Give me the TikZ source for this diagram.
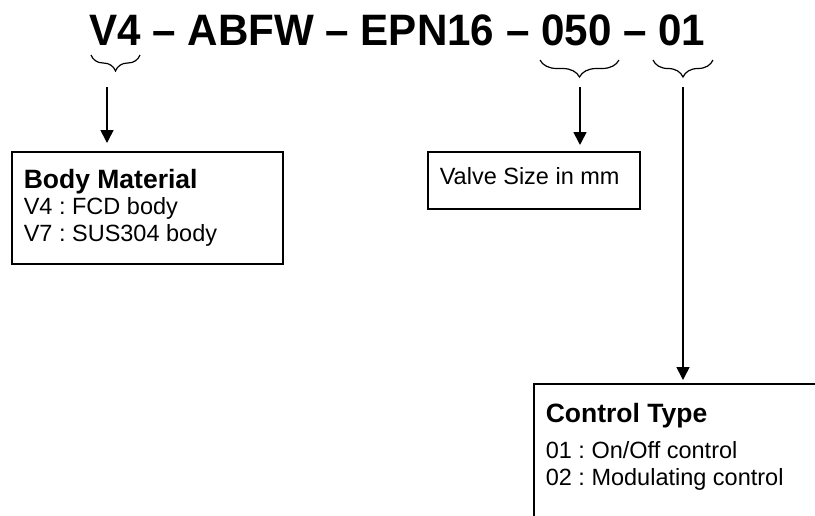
\documentclass[tikz,border=0pt]{standalone}
\usepackage{fontspec}
\setmainfont{Liberation Sans}
\newfontfamily\codefont[FakeStretch=0.958,Ligatures=TeX]{Liberation Sans Bold}
\usetikzlibrary{arrows.meta, decorations.pathreplacing, positioning}

\newcommand{\headfont}{\fontsize{26.5}{30}\selectfont\bfseries}
\newcommand{\bodyfont}{\fontsize{23.5}{26.5}\selectfont}
\frenchspacing

\tikzset{
  infobox/.style={draw=black, line width=1.6pt, anchor=north west, inner xsep=12pt, align=left},
  codebrace/.style={decorate, decoration={brace, mirror, amplitude=#1}, line width=1.2pt},
  codebrace/.default=17pt,
  codearrow/.style={->, line width=1.6pt}
}

\begin{document}
\begin{tikzpicture}[x=1pt, y=-1pt, >={Triangle[length=13pt,width=13pt]}]
\useasboundingbox (0,0) rectangle (815,515);
\clip (0,0) rectangle (815,515);

% the order code
\node[anchor=base west, inner sep=0pt, font=\codefont\fontsize{44}{50}\selectfont] (code) at (89,45)
  {V4 -- ABFW -- EPN16 -- 050 -- 01};

% braces under the parts
\draw[codebrace=16pt] (91,55) -- (140,55);
\draw[codebrace] (540,60) -- (619,60);
\draw[codebrace] (653,60) -- (713,60);

\coordinate (mattop)  at (107,87);
\coordinate (sizetop) at (580,87);
\coordinate (ctrltop) at (683,87);

% boxes
\node[infobox, inner ysep=17pt] (material) at (11,151)
  {\parbox[t][78pt][t]{247pt}{\bodyfont{\headfont Body Material}\\
   V4 : FCD body\\
   V7 : SUS304 body}};
\node[infobox, inner ysep=15.5pt] (size) at (427,151)
  {\parbox[t][26pt][t]{188pt}{\bodyfont Valve Size in mm}};
\node[infobox, inner ysep=19.5pt] (control) at (533,383)
  {\parbox[t][115pt][t]{278pt}{\bodyfont{\headfont Control Type}\\[9.5pt]
   01 : On/Off control\\
   02 : Modulating control}};

% arrows
\draw[codearrow, shorten >=8pt] (mattop) -- (mattop |- material.north);
\draw[codearrow, shorten >=6pt] (sizetop) -- (sizetop |- size.north);
\draw[codearrow, shorten >=3pt] (ctrltop) -- (ctrltop |- control.north);
\end{tikzpicture}
\end{document}
